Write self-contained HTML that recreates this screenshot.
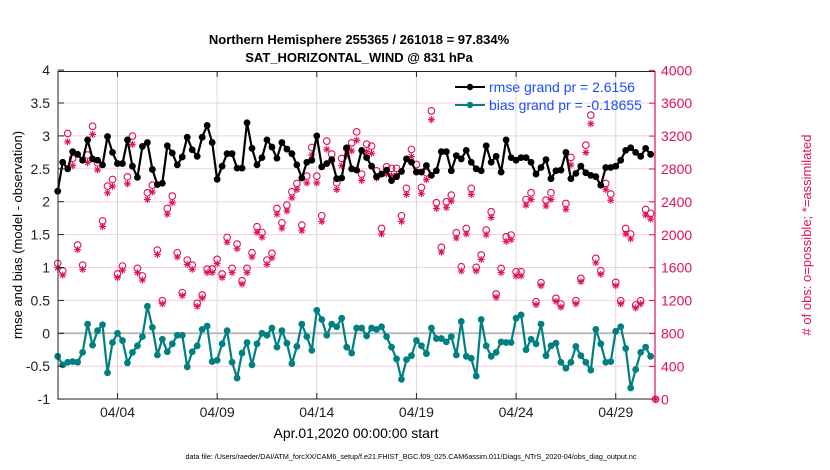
<!DOCTYPE html>
<html><head><meta charset="utf-8">
<style>
body{margin:0;background:#fff;}
svg{display:block;font-family:"Liberation Sans",Arial,sans-serif;}
</style></head>
<body>
<svg id="chart" width="830" height="470" viewBox="0 0 830 470">
<rect x="0" y="0" width="830" height="470" fill="#fff"/>
<g id="grid"></g>
<g id="series"></g>
<rect x="58" y="71.5" width="597" height="327.5" fill="none" stroke="#222" stroke-width="1"/>
<line x1="655" y1="71.5" x2="655" y2="399" stroke="#e0105a" stroke-width="1.2"/>
<g id="axes"></g>
<text x="359" y="44" text-anchor="middle" font-size="13" font-weight="bold">Northern Hemisphere 255365 / 261018 = 97.834%</text>
<text x="359" y="62" text-anchor="middle" font-size="13" font-weight="bold">SAT_HORIZONTAL_WIND @ 831 hPa</text>
<text transform="translate(22,235) rotate(-90)" text-anchor="middle" font-size="13">rmse and bias (model - observation)</text>
<text transform="translate(811,235) rotate(-90)" text-anchor="middle" font-size="13" fill="#e0105a"># of obs: o=possible; *=assimilated</text>
<text x="356" y="438" text-anchor="middle" font-size="14">Apr.01,2020 00:00:00 start</text>
<text x="411" y="459" text-anchor="middle" font-size="7.2">data file: /Users/raeder/DAI/ATM_forcXX/CAM6_setup/f.e21.FHIST_BGC.f09_025.CAM6assim.011/Diags_NTrS_2020-04/obs_diag_output.nc</text>
<g>
<line x1="455" y1="87" x2="485" y2="87" stroke="#000" stroke-width="2"/>
<circle cx="470" cy="87" r="3.2" fill="#000"/>
<text x="489" y="92" font-size="14" fill="#1a4dff">rmse grand pr = 2.6156</text>
<line x1="455" y1="105" x2="485" y2="105" stroke="#008080" stroke-width="2"/>
<circle cx="470" cy="105" r="3.2" fill="#008080"/>
<text x="489" y="110" font-size="14" fill="#1a4dff">bias grand pr = -0.18655</text>
</g>
</svg>
<script>
const rmse=[2.16,2.60,2.50,2.76,2.72,2.63,2.94,2.65,2.63,2.56,2.99,2.75,2.58,2.58,2.94,2.54,2.37,2.84,2.90,2.49,2.26,
2.28,2.85,2.74,2.56,2.68,2.98,2.79,2.69,2.98,3.16,2.90,2.34,2.54,2.73,2.73,2.51,2.51,3.20,2.81,2.56,
2.67,2.94,2.83,2.66,2.90,2.80,2.73,2.56,2.36,2.60,2.63,3.00,2.53,2.58,2.64,2.35,2.36,2.82,2.50,2.48,
2.78,2.67,2.54,2.38,2.42,2.48,2.32,2.38,2.46,2.65,2.60,2.45,2.45,2.55,2.40,2.47,2.76,2.76,2.47,2.70,
2.65,2.78,2.60,2.50,2.47,2.85,2.60,2.69,2.45,2.94,2.67,2.63,2.67,2.67,2.60,2.42,2.52,2.64,2.35,2.47,
2.48,2.75,2.35,2.43,2.54,2.44,2.40,2.38,2.25,2.52,2.52,2.54,2.63,2.78,2.82,2.75,2.69,2.81,2.72];
const bias=[-0.35,-0.48,-0.44,-0.43,-0.44,-0.29,0.14,-0.18,0.04,0.13,-0.60,-0.14,0.00,-0.11,-0.45,-0.29,-0.19,-0.05,0.41,0.09,-0.33,
-0.09,-0.28,-0.16,-0.03,-0.03,-0.51,-0.28,-0.19,0.06,0.11,-0.43,-0.41,-0.16,0.04,-0.44,-0.68,-0.30,-0.14,-0.48,-0.16,
0.00,-0.03,0.08,-0.21,0.04,-0.15,-0.46,-0.20,0.14,-0.05,-0.26,0.35,0.21,-0.03,0.14,0.10,0.23,-0.21,-0.30,0.08,
0.08,-0.04,0.08,0.06,0.10,-0.05,-0.21,-0.39,-0.70,-0.40,-0.34,-0.11,-0.19,-0.31,0.08,-0.08,-0.08,-0.13,-0.05,-0.33,
0.18,-0.35,-0.38,-0.65,0.21,-0.19,-0.35,-0.29,-0.13,-0.14,-0.14,0.23,0.28,-0.25,-0.09,-0.16,0.14,-0.34,-0.19,-0.15,
-0.44,-0.53,-0.44,-0.20,-0.34,-0.44,-0.56,0.06,-0.16,-0.44,-0.43,0.03,0.10,-0.23,-0.83,-0.55,-0.29,-0.21,-0.35];
const obsPossible=[1652,1560,3232,2928,1875,1632,2970,3320,2875,2170,2592,2673,1523,1620,2705,3200,1592,1500,2511,2604,1814,
1199,2320,2470,1782,1296,1693,1632,1166,1268,1584,1584,1701,1523,1968,1592,1887,1442,1592,1782,2098,
2029,1693,1774,2320,2146,2361,2523,2624,2118,2713,3062,2713,2231,3139,2981,2632,2928,3050,3118,3252,
2738,3102,3078,2778,2077,2827,2807,2807,2231,2564,3038,2855,2576,2754,3507,2390,1847,2402,2483,2025,
1612,2077,2564,1604,1754,2057,2280,1280,1592,1976,1997,1551,1551,2430,2511,1187,1418,2422,2511,1227,
1158,2381,2940,1199,1470,3090,3455,1713,1563,2624,2495,1422,1199,2077,2009,1146,1199,2308,2260,0];
const obsAssim=[1600,1510,3130,2840,1820,1580,2880,3220,2790,2100,2510,2590,1480,1570,2620,3100,1540,1450,2430,2520,1760,
1160,2250,2390,1730,1260,1640,1580,1130,1230,1540,1540,1650,1480,1910,1540,1830,1400,1540,1730,2030,
1970,1640,1720,2250,2080,2290,2450,2550,2050,2630,2970,2630,2160,3040,2890,2550,2840,2960,3020,3150,
2660,3010,2990,2690,2010,2740,2720,2720,2160,2490,2950,2770,2500,2670,3400,2320,1790,2330,2410,1960,
1560,2010,2490,1560,1700,2000,2210,1240,1540,1920,1940,1500,1500,2360,2430,1150,1380,2350,2430,1190,
1120,2310,2850,1160,1430,3000,3350,1660,1520,2550,2420,1380,1160,2010,1950,1110,1160,2240,2190,0];
const stepsPerDay=4;
const xTickLabels=["04/04","04/09","04/14","04/19","04/24","04/29"];
const xTickDays=[3,8,13,18,23,28];
const yLeftTicks=[-1,-0.5,0,0.5,1,1.5,2,2.5,3,3.5,4];
const yLeftLabels=["-1","-0.5","0","0.5","1","1.5","2","2.5","3","3.5","4"];
const yRightTicks=[0,400,800,1200,1600,2000,2400,2800,3200,3600,4000];

const NS="http://www.w3.org/2000/svg";
function xs(t){return 57.7+19.93*t;}
function yl(v){return 333.3-65.8*v;}
function yr(c){return 399.3-c*(329/4000);}
function mk(tag,attrs,parent){const e=document.createElementNS(NS,tag);for(const k in attrs)e.setAttribute(k,attrs[k]);parent.appendChild(e);return e;}
const grid=document.getElementById('grid'),series=document.getElementById('series'),axes=document.getElementById('axes');

yLeftTicks.forEach((v,i)=>{
  if(v>-1&&v<4&&v!==0){const l=mk('line',{x1:58,x2:655,y1:yl(v),y2:yl(v),stroke:'#f5cfe0','stroke-width':1},grid);
  
  }
  const t=mk('text',{x:50,y:yl(v)+5,'text-anchor':'end','font-size':14,fill:'#222'},axes);
  t.textContent=yLeftLabels[i];
  
  
  const tk=mk('line',{x1:58,x2:64,y1:yl(v),y2:yl(v),stroke:'#222'},axes);
  
  
});
yRightTicks.forEach(c=>{
  const t=mk('text',{x:661,y:yr(c)+5,'font-size':14,fill:'#e0105a'},axes);
  t.textContent=String(c);
  
  
  const tk=mk('line',{x1:649,x2:655,y1:yr(c),y2:yr(c),stroke:'#e0105a'},axes);
  
  
});
xTickDays.forEach((d,i)=>{
  const l=mk('line',{x1:xs(d),x2:xs(d),y1:71.5,y2:399,stroke:'#d8d8d8','stroke-width':1},grid);
  
  
  const t=mk('text',{x:xs(d),y:417,'text-anchor':'middle','font-size':14,fill:'#222'},axes);
  t.textContent=xTickLabels[i];
  
  
  const tk=mk('line',{x1:xs(d),x2:xs(d),y1:393,y2:399,stroke:'#222'},axes);
  
  
  const tk2=mk('line',{x1:xs(d),x2:xs(d),y1:71.5,y2:77,stroke:'#222'},axes);
  
  
});
const zl=mk('line',{x1:58,x2:655,y1:yl(0),y2:yl(0),stroke:'#bbb','stroke-width':2},grid);



obsPossible.forEach((c,i)=>{
  const x=xs(i/stepsPerDay),y=yr(c);
  const o=mk('circle',{cx:x,cy:y,r:3.3,fill:'none',stroke:'#e0105a','stroke-width':1.1},series);
  
  
});
obsAssim.forEach((c,i)=>{
  const x=xs(i/stepsPerDay),y=yr(c);
  const g=mk('g',{stroke:'#e0105a','stroke-width':1.1},series);
  
  
  mk('line',{x1:x-3.5,x2:x+3.5,y1:y,y2:y},g);
  mk('line',{x1:x,x2:x,y1:y-3.5,y2:y+3.5},g);
  mk('line',{x1:x-2.5,x2:x+2.5,y1:y-2.5,y2:y+2.5},g);
  mk('line',{x1:x-2.5,x2:x+2.5,y1:y+2.5,y2:y-2.5},g);
});
function drawLine(vals,color,name){
  const pts=vals.map((v,i)=>xs(i/stepsPerDay).toFixed(1)+','+yl(v).toFixed(1)).join(' ');
  const pl=mk('polyline',{points:pts,fill:'none',stroke:color,'stroke-width':2.2,'stroke-linejoin':'round'},series);
  
  
  vals.forEach((v,i)=>{
    const c=mk('circle',{cx:xs(i/stepsPerDay),cy:yl(v),r:3.4,fill:color},series);
    
    
  });
}
drawLine(rmse,'#000','rmse');
drawLine(bias,'#008080','bias');
</script>
</body></html>
